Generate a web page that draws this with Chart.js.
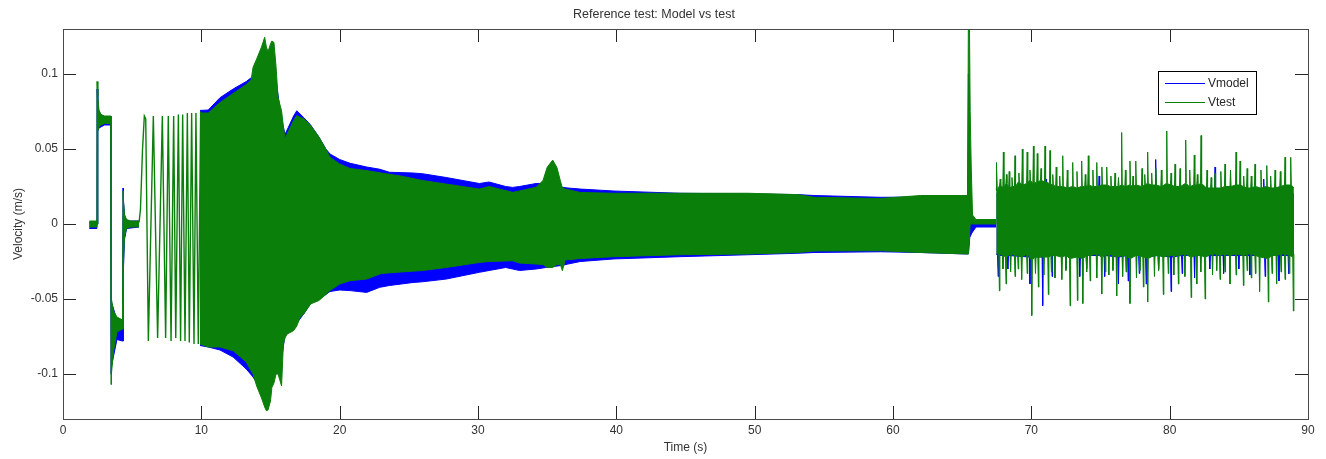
<!DOCTYPE html>
<html>
<head>
<meta charset="utf-8">
<script src="https://cdn.jsdelivr.net/npm/chart.js@4.4.0/dist/chart.umd.min.js"></script>
<style>
  html, body { margin: 0; padding: 0; background: #fff; }
  #wrap { width: 1326px; height: 459px; }
</style>
</head>
<body>
<div id="wrap"><canvas id="chart" width="1326" height="459"></canvas></div>
<script>
// Reference test: Vmodel vs Vtest. Signals are far too dense to read sample by sample,
// so each one is kept as its upper/lower envelope (t in s, v in m/s).

const xTicks = [0, 10, 20, 30, 40, 50, 60, 70, 80, 90];
const yTicks = [-0.1, -0.05, 0, 0.05, 0.1];
const yTickLabels = ['-0.1', '-0.05', '0', '0.05', '0.1'];

// step test at the start (2 - 5.5 s)
const testPreT  = [1.9, 2.45, 2.46, 2.52, 2.6, 2.75, 3.0, 3.45, 3.47, 3.5, 3.65, 3.9, 4.3, 4.34, 4.37, 4.45, 4.6, 4.9, 5.5];
const testPreHi = [0.002, 0.002, 0.095, 0.085, 0.076, 0.073, 0.072, 0.072, 0.072, -0.05, -0.058, -0.062, -0.064, 0.022, 0.015, 0.006, 0.003, 0.002, 0.002];
const testPreLo = [-0.002, -0.002, 0.0, 0.062, 0.065, 0.066, 0.067, 0.067, -0.107, -0.1, -0.085, -0.072, -0.07, -0.07, -0.025, -0.008, -0.003, -0.002, -0.002];

const modelPreT  = [1.9, 2.45, 2.46, 2.52, 2.6, 3.0, 3.45, 3.47, 3.5, 3.9, 4.3, 4.34, 4.37, 4.45, 4.6, 5.5];
const modelPreHi = [0.001, 0.001, 0.09, 0.08, 0.074, 0.071, 0.071, 0.071, -0.052, -0.064, -0.066, 0.024, 0.016, 0.006, 0.002, 0.002];
const modelPreLo = [-0.003, -0.003, 0.0, 0.062, 0.064, 0.066, 0.066, -0.1, -0.095, -0.077, -0.078, -0.078, -0.03, -0.01, -0.003, -0.002];

// slow start of the sweep (5.5 - 10 s), individual swings still visible
const chirpT = [5.5, 5.6, 5.75, 5.88, 5.98, 6.17, 6.53, 6.84, 7.18, 7.42, 7.61, 7.81, 8.0, 8.15, 8.34, 8.5, 8.65, 8.82, 8.99, 9.13, 9.3, 9.47, 9.61, 9.78, 9.95];
const chirpV = [0.001, 0.01, 0.05, 0.072, 0.07, -0.078, 0.072, -0.076, 0.072, -0.076, 0.072, -0.078, 0.072, -0.076, 0.073, -0.078, 0.073, -0.078, 0.074, -0.079, 0.074, -0.08, 0.074, -0.08, 0.075];

// dense sweep and the constant part (10 - 67.5 s)
const testMainT = [9.9, 10.5, 11.35, 12.3, 13.25, 13.6, 13.74, 14.0, 14.35, 14.58, 14.7, 14.82, 15.0, 15.1, 15.25, 15.4, 15.55, 15.8, 15.93, 16.05,
  16.2, 16.67, 16.9, 17.14, 17.4, 17.9, 18.5, 19.0, 19.3, 20.0, 20.75, 21.95, 23.0, 24.4, 26.0, 27.7, 30.1, 30.8, 32.5, 33.0,
  34.2, 34.7, 35.0, 35.4, 35.7, 35.95, 36.1, 36.3, 37.4, 39.8, 44.6, 49.5, 53.1, 54.3, 59.1, 62.0, 65.4, 65.45, 65.52, 65.58,
  65.65, 65.75, 66.0, 67.45];
const testMainHi = [0.074, 0.074, 0.081, 0.087, 0.093, 0.096, 0.1045, 0.11, 0.118, 0.1245, 0.118, 0.115, 0.12, 0.122, 0.121, 0.105, 0.084, 0.0755, 0.065, 0.057,
  0.06, 0.069, 0.0723, 0.071, 0.0703, 0.0657, 0.058, 0.05, 0.0445, 0.04, 0.037, 0.0356, 0.034, 0.032, 0.029, 0.0266, 0.0233, 0.025, 0.0211, 0.022,
  0.0245, 0.029, 0.0378, 0.0426, 0.0378, 0.029, 0.024, 0.0233, 0.021, 0.0205, 0.0205, 0.0205, 0.0196, 0.0178, 0.017, 0.019, 0.019, 0.14, 0.14, 0.075,
  0.04, 0.006, 0.003, 0.003];
const testMainLo = [-0.08, -0.082, -0.082, -0.0845, -0.092, -0.098, -0.1, -0.108, -0.116, -0.122, -0.1245, -0.124, -0.118, -0.109, -0.106, -0.1, -0.1, -0.108, -0.08, -0.076,
  -0.0734, -0.0711, -0.068, -0.0622, -0.06, -0.0533, -0.051, -0.047, -0.0444, -0.04, -0.0378, -0.0367, -0.033, -0.032, -0.031, -0.029, -0.0256, -0.025, -0.0245, -0.026,
  -0.0267, -0.027, -0.029, -0.029, -0.027, -0.027, -0.0311, -0.024, -0.023, -0.0218, -0.0205, -0.02, -0.019, -0.018, -0.0178, -0.019, -0.02, -0.02, -0.01, 0.0,
  0.0, 0.0, 0.0, 0.0];

const modelMainT = [9.9, 10.5, 11.35, 12.3, 13.25, 13.74, 14.3, 15.0, 15.4, 15.8, 16.05, 16.67, 16.9, 17.4, 17.9, 18.5, 19.0, 19.3, 20.0, 20.75,
  21.95, 22.9, 23.6, 25.3, 26.0, 27.7, 30.1, 30.8, 32.0, 32.5, 33.0, 34.2, 34.9, 36.15, 36.5, 37.4, 39.8, 44.6, 49.5, 53.1,
  54.3, 59.1, 62.0, 65.4, 65.45, 65.55, 65.7, 66.0, 67.45];
const modelMainHi = [0.0757, 0.076, 0.0842, 0.09, 0.095, 0.0985, 0.105, 0.11, 0.095, 0.07, 0.0597, 0.072, 0.0755, 0.071, 0.066, 0.058, 0.05, 0.0467, 0.043, 0.0405,
  0.038, 0.0365, 0.0345, 0.034, 0.0335, 0.031, 0.027, 0.028, 0.025, 0.0244, 0.025, 0.027, 0.027, 0.0244, 0.024, 0.0233, 0.022, 0.0205, 0.02, 0.0196,
  0.019, 0.0178, 0.018, 0.018, 0.1, 0.02, 0.002, 0.002, 0.002];
const modelMainLo = [-0.081, -0.082, -0.084, -0.0887, -0.0967, -0.102, -0.11, -0.11, -0.098, -0.09, -0.074, -0.07, -0.066, -0.06, -0.053, -0.05, -0.047, -0.045, -0.044, -0.0444,
  -0.0456, -0.0422, -0.041, -0.039, -0.0385, -0.0367, -0.0322, -0.031, -0.029, -0.03, -0.031, -0.03, -0.029, -0.0275, -0.0267, -0.025, -0.0233, -0.0218, -0.0205, -0.0195,
  -0.019, -0.0185, -0.019, -0.02, -0.02, -0.009, -0.006, -0.002, -0.002];

// random excitation (67.5 - 89 s): [time, spike value, band level around it]
const testNoiseHi = [[67.47, 0.024, 0.024], [67.5, 0.041, 0.022], [67.75, 0.03, 0.026], [67.98, 0.048, 0.024], [68.2, 0.033, 0.027], [68.4, 0.035, 0.024],
  [68.6, 0.031, 0.025], [68.82, 0.0455, 0.025], [69.1, 0.034, 0.028], [69.35, 0.05, 0.026], [69.7, 0.048, 0.027], [69.9, 0.036, 0.029],
  [70.15, 0.052, 0.027], [70.43, 0.047, 0.028], [70.7, 0.037, 0.029], [70.99, 0.052, 0.028], [71.35, 0.049, 0.027], [71.55, 0.033, 0.026],
  [71.8, 0.038, 0.025], [72.05, 0.032, 0.025], [72.27, 0.0455, 0.025], [72.6, 0.036, 0.024], [72.99, 0.041, 0.025], [73.3, 0.035, 0.024],
  [73.64, 0.042, 0.025], [73.9, 0.033, 0.025], [74.12, 0.0455, 0.026], [74.45, 0.036, 0.025], [74.73, 0.041, 0.025], [75.1, 0.038, 0.026],
  [75.45, 0.038, 0.026], [75.75, 0.032, 0.025], [76.05, 0.034, 0.025], [76.3, 0.031, 0.025], [76.53, 0.061, 0.026], [76.8, 0.036, 0.025],
  [77.13, 0.042, 0.026], [77.35, 0.032, 0.025], [77.55, 0.042, 0.026], [78.0, 0.037, 0.025], [78.2, 0.033, 0.026], [78.41, 0.048, 0.027],
  [78.7, 0.034, 0.026], [79.0, 0.037, 0.026], [79.4, 0.036, 0.025], [79.79, 0.062, 0.027], [80.1, 0.034, 0.026], [80.39, 0.04, 0.025],
  [80.75, 0.037, 0.025], [81.16, 0.056, 0.027], [81.45, 0.036, 0.025], [81.78, 0.046, 0.026], [82.0, 0.033, 0.026], [82.27, 0.059, 0.027],
  [82.7, 0.036, 0.024], [83.0, 0.031, 0.024], [83.28, 0.034, 0.024], [83.7, 0.035, 0.024], [84.0, 0.04, 0.025], [84.4, 0.036, 0.025],
  [84.8, 0.048, 0.026], [85.09, 0.042, 0.026], [85.35, 0.032, 0.025], [85.6, 0.037, 0.024], [85.9, 0.032, 0.024], [86.17, 0.04, 0.025],
  [86.6, 0.036, 0.024], [87.02, 0.039, 0.025], [87.3, 0.032, 0.024], [87.62, 0.036, 0.024], [88.0, 0.035, 0.025], [88.34, 0.0445, 0.026],
  [88.75, 0.0445, 0.026], [88.98, 0.024, 0.024]];
const testNoiseLo = [[67.47, -0.02, -0.02], [67.69, -0.0445, -0.02], [67.95, -0.03, -0.021], [68.17, -0.04, -0.022], [68.5, -0.032, -0.02],
  [68.82, -0.035, -0.021], [69.05, -0.03, -0.021], [69.3, -0.037, -0.022], [69.7, -0.033, -0.02], [70.03, -0.061, -0.024], [70.3, -0.033, -0.022],
  [70.51, -0.042, -0.022], [70.9, -0.034, -0.022], [71.23, -0.047, -0.022], [71.45, -0.032, -0.021], [71.71, -0.036, -0.021], [72.2, -0.037, -0.022],
  [72.5, -0.031, -0.021], [72.8, -0.0545, -0.023], [73.33, -0.051, -0.022], [73.72, -0.053, -0.023], [74.0, -0.032, -0.021], [74.25, -0.038, -0.021],
  [74.73, -0.036, -0.02], [75.09, -0.0467, -0.022], [75.35, -0.032, -0.021], [75.6, -0.034, -0.02], [75.9, -0.031, -0.021], [76.17, -0.048, -0.022],
  [76.6, -0.035, -0.021], [76.85, -0.032, -0.021], [77.13, -0.053, -0.023], [77.6, -0.036, -0.021], [77.85, -0.031, -0.021], [78.1, -0.042, -0.022],
  [78.41, -0.052, -0.023], [78.9, -0.035, -0.021], [79.2, -0.031, -0.021], [79.54, -0.047, -0.022], [79.9, -0.033, -0.021], [80.3, -0.034, -0.021],
  [80.63, -0.04, -0.021], [81.1, -0.035, -0.02], [81.55, -0.049, -0.022], [81.96, -0.04, -0.021], [82.25, -0.032, -0.021], [82.56, -0.05, -0.022],
  [83.1, -0.034, -0.02], [83.4, -0.031, -0.02], [83.64, -0.037, -0.021], [84.0, -0.032, -0.02], [84.36, -0.04, -0.021], [84.8, -0.034, -0.02],
  [85.33, -0.041, -0.021], [85.6, -0.031, -0.02], [85.9, -0.036, -0.02], [86.2, -0.033, -0.021], [86.5, -0.045, -0.022], [87.13, -0.052, -0.023],
  [87.4, -0.033, -0.021], [87.73, -0.04, -0.021], [88.05, -0.032, -0.02], [88.34, -0.037, -0.02], [88.65, -0.033, -0.021], [88.94, -0.058, -0.022],
  [88.98, -0.02, -0.02]];

const modelNoiseHi = [[67.47, 0.02, 0.02], [71.1, 0.03, 0.021], [74.9, 0.032, 0.021], [78.99, 0.043, 0.021], [83.28, 0.038, 0.021],
  [86.8, 0.03, 0.021], [88.98, 0.02, 0.02]];
const modelNoiseLo = [[67.47, -0.02, -0.02], [67.6, -0.035, -0.021], [68.3, -0.03, -0.021], [69.9, -0.04, -0.022], [70.82, -0.0545, -0.022],
  [71.5, -0.035, -0.021], [72.5, -0.03, -0.021], [73.5, -0.035, -0.022], [74.0, -0.03, -0.021], [75.3, -0.035, -0.021], [76.3, -0.04, -0.022],
  [77.0, -0.038, -0.021], [77.8, -0.033, -0.021], [78.3, -0.04, -0.022], [79.2, -0.03, -0.021], [80.1, -0.045, -0.022], [80.9, -0.033, -0.021],
  [81.8, -0.036, -0.021], [82.9, -0.03, -0.021], [83.9, -0.033, -0.021], [85.0, -0.03, -0.021], [85.8, -0.034, -0.021], [86.9, -0.035, -0.021],
  [87.9, -0.038, -0.021], [88.6, -0.033, -0.021], [88.98, -0.02, -0.02]];

const legendItems = [
  { label: 'Vmodel', color: '#0000ff' },
  { label: 'Vtest', color: '#0a7f0a' }
];

const BLUE = '#0000ff';
const GREEN = '#0a7f0a';

const pts = (t, v) => t.map((x, i) => ({ x, y: v[i] }));
// each spike becomes a narrow peak standing on its band level
const spikes = (list) => list.flatMap(([t, peak, base]) => peak === base
  ? [{ x: t, y: base }]
  : [{ x: t - 0.04, y: base }, { x: t, y: peak }, { x: t + 0.04, y: base }]);

function band(data, color, fill, order, width = 1) {
  return {
    data,
    borderColor: color,
    backgroundColor: color,
    borderWidth: width,
    pointRadius: 0,
    tension: 0,
    fill,
    order
  };
}

const datasets = [
  band(pts(modelPreT, modelPreHi), BLUE, false, 2),          // 0
  band(pts(modelPreT, modelPreLo), BLUE, 0, 2),              // 1
  band(pts(modelMainT, modelMainHi), BLUE, false, 2),        // 2
  band(pts(modelMainT, modelMainLo), BLUE, 2, 2),            // 3
  band(spikes(modelNoiseHi), BLUE, { value: 0 }, 2),         // 4
  band(spikes(modelNoiseLo), BLUE, { value: 0 }, 2),         // 5
  band(pts(testPreT, testPreHi), GREEN, false, 1),           // 6
  band(pts(testPreT, testPreLo), GREEN, 6, 1),               // 7
  band(pts(chirpT, chirpV), GREEN, false, 1, 1.4),           // 8
  band(pts(testMainT, testMainHi), GREEN, false, 1),         // 9
  band(pts(testMainT, testMainLo), GREEN, 9, 1),             // 10
  band(spikes(testNoiseHi), GREEN, { value: 0 }, 1),         // 11
  band(spikes(testNoiseLo), GREEN, { value: 0 }, 1)          // 12
];

// Matlab style box: inward ticks on all four sides plus the legend box
const framePlugin = {
  id: 'frame',
  afterDraw(chart) {
    const { ctx, chartArea: a, scales: { x, y } } = chart;
    ctx.save();
    ctx.lineWidth = 1;
    ctx.strokeStyle = '#262626';
    ctx.beginPath();
    xTicks.forEach(v => {
      const px = Math.round(x.getPixelForValue(v)) + 0.5;
      ctx.moveTo(px, a.bottom); ctx.lineTo(px, a.bottom - 13);
      ctx.moveTo(px, a.top); ctx.lineTo(px, a.top + 13);
    });
    yTicks.forEach(v => {
      const py = Math.round(y.getPixelForValue(v)) + 0.5;
      ctx.moveTo(a.left, py); ctx.lineTo(a.left + 13, py);
      ctx.moveTo(a.right, py); ctx.lineTo(a.right - 13, py);
    });
    ctx.stroke();
    ctx.strokeStyle = '#4a4a4a';
    ctx.strokeRect(Math.round(a.left) + 0.5, Math.round(a.top) + 0.5, Math.round(a.right - a.left), Math.round(a.bottom - a.top));

    // legend
    const bx = a.right - 150, by = a.top + 42, bw = 98, bh = 43;
    ctx.fillStyle = '#fff';
    ctx.fillRect(bx, by, bw, bh);
    ctx.strokeStyle = '#000';
    ctx.strokeRect(bx + 0.5, by + 0.5, bw, bh);
    ctx.font = '12px "Liberation Sans", Arial, sans-serif';
    ctx.textBaseline = 'middle';
    legendItems.forEach((item, i) => {
      const ly = by + 12.5 + i * 19;
      ctx.strokeStyle = item.color;
      ctx.beginPath();
      ctx.moveTo(bx + 7, ly); ctx.lineTo(bx + 47, ly);
      ctx.stroke();
      ctx.fillStyle = '#262626';
      ctx.fillText(item.label, bx + 50, ly);
    });
    ctx.restore();
  }
};

Chart.defaults.font.family = '"Liberation Sans", Arial, sans-serif';
Chart.defaults.font.size = 12;
Chart.defaults.color = '#333';

new Chart(document.getElementById('chart'), {
  type: 'line',
  data: { datasets },
  plugins: [framePlugin],
  options: {
    responsive: false,
    animation: false,
    devicePixelRatio: 1,
    layout: { padding: { top: 0, right: 18, left: 0, bottom: 0 } },
    plugins: {
      legend: { display: false },
      tooltip: { enabled: false },
      title: {
        display: true,
        text: 'Reference test: Model vs test',
        color: '#333',
        font: { size: 12.5, weight: 'normal' },
        padding: { top: 7, bottom: 7 }
      }
    },
    scales: {
      x: {
        type: 'linear',
        min: 0,
        max: 90,
        grid: { display: false, drawTicks: false },
        border: { display: false },
        ticks: { padding: 4, maxRotation: 0, autoSkip: false, color: '#333', callback: v => String(v) },
        afterBuildTicks: s => { s.ticks = xTicks.map(v => ({ value: v })); },
        afterFit: s => { s.height = 40; },
        title: { display: true, text: 'Time (s)', color: '#333', padding: { top: 0, bottom: 4 } }
      },
      y: {
        type: 'linear',
        min: -0.13,
        max: 0.13,
        grid: { display: false, drawTicks: false },
        border: { display: false },
        ticks: { padding: 5, color: '#333', callback: (v, i) => yTickLabels[i] },
        afterBuildTicks: s => { s.ticks = yTicks.map(v => ({ value: v })); },
        afterFit: s => { s.width = 63; },
        title: { display: true, text: 'Velocity (m/s)', color: '#333', padding: { top: 11, bottom: 0 } }
      }
    }
  }
});
</script>
</body>
</html>
